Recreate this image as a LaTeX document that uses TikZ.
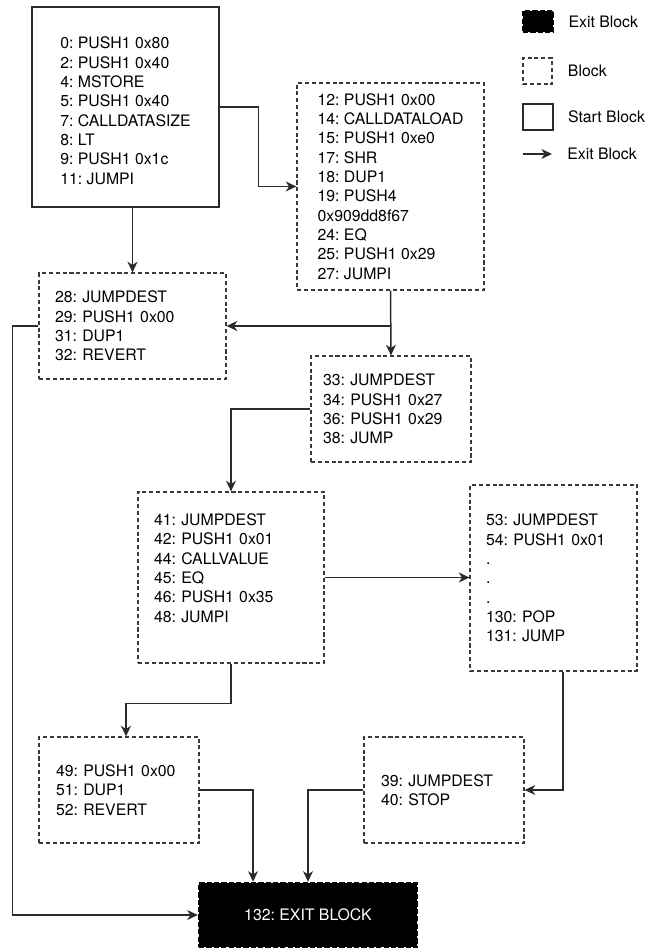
\documentclass[tikz,border=0pt]{standalone}
\usepackage{fontspec}
\setmainfont{TeX Gyre Heros}
\usetikzlibrary{positioning, arrows.meta, calc}
\definecolor{cfgline}{HTML}{2A2A2A}
\definecolor{cfgedge}{HTML}{3A3A3A}
\frenchspacing
\tikzset{
  blockbox/.style={draw=cfgedge, line width=0.7pt, dash pattern=on 2.3pt off 1.6pt,
                   inner sep=0pt, align=left, font=\fontsize{9}{11}\selectfont},
  startbox/.style={draw=cfgline, line width=0.8pt, inner sep=0pt, align=left,
                   font=\fontsize{9}{11}\selectfont},
  exitbox/.style={fill=black, draw=black, line width=1.4pt, dash pattern=on 3pt off 1.2pt,
                  text=white, inner sep=0pt, font=\fontsize{9}{11}\selectfont},
  flow/.style={draw=cfgline, line width=0.85pt, -{Stealth[length=6pt, width=5.6pt, inset=1.8pt]}},
  legtext/.style={inner sep=0pt, font=\fontsize{9}{11}\selectfont}
}
\begin{document}
\begin{tikzpicture}[x=0.02cm, y=-0.02cm]
\useasboundingbox (0,0) rectangle (645,949);
% basic blocks
\node[startbox, minimum width=3.74cm, minimum height=4cm] (b0) at (125.5,107)
  {\mbox{}\\0: PUSH1 0x80\\2: PUSH1 0x40\\4: MSTORE\\5: PUSH1 0x40\\7: CALLDATASIZE\\8: LT\\9: PUSH1 0x1c\\11: JUMPI};
\node[blockbox, minimum width=3.74cm, minimum height=4.14cm] (b12) at (390.5,186.5)
  {12: PUSH1 0x00\\14: CALLDATALOAD\\15: PUSH1 0xe0\\17: SHR\\18: DUP1\\19: PUSH4\\0x909dd8f67\\24: EQ\\25: PUSH1 0x29\\27: JUMPI};
\node[blockbox, minimum width=3.74cm, minimum height=2.12cm, text width=3.1cm] (b28) at (132.5,326)
  {28: JUMPDEST\\29: PUSH1 0x00\\31: DUP1\\32: REVERT};
\node[blockbox, minimum width=3.2cm, minimum height=2.12cm, text width=2.72cm] (b33) at (391,409)
  {33: JUMPDEST\\34: PUSH1 0x27\\36: PUSH1 0x29\\38: JUMP};
\node[blockbox, minimum width=3.72cm, minimum height=3.42cm, text width=3.08cm] (b41) at (231,577.5)
  {41: JUMPDEST\\42: PUSH1 0x01\\44: CALLVALUE\\45: EQ\\46: PUSH1 0x35\\48: JUMPI\\\mbox{}};
\node[blockbox, minimum width=3.34cm, minimum height=3.72cm, text width=2.7cm] (b53) at (553.5,578)
  {53: JUMPDEST\\54: PUSH1 0x01\\.\\.\\.\\130: POP\\131: JUMP};
\node[blockbox, minimum width=3.2cm, minimum height=2.12cm, text width=2.52cm] (b49) at (119,790)
  {49: PUSH1 0x00\\51: DUP1\\52: REVERT};
\node[blockbox, minimum width=3.2cm, minimum height=2.12cm, text width=2.52cm] (b39) at (444,790)
  {39: JUMPDEST\\40: STOP};
\node[exitbox, minimum width=4.36cm, minimum height=1.28cm] (exit) at (308,915) {132: EXIT BLOCK};

% legend
\node[exitbox, minimum width=0.6cm, minimum height=0.42cm] (lexit) at (538,21.5) {};
\node[legtext, right=0.28cm of lexit] (texit) {Exit Block};
\node[blockbox, minimum width=0.58cm, minimum height=0.52cm] (lblock) at (537.5,71) {};
\node[legtext, right=0.3cm of lblock] (tblock) {Block};
\node[startbox, minimum width=0.6cm, minimum height=0.52cm] (lstart) at (538,117) {};
\node[legtext, right=0.28cm of lstart] (tstart) {Start Block};
\coordinate (la1) at (523,154);
\coordinate (la2) at (552,154);
\draw[flow] (la1) -- (la2);
\node[legtext, right=0.3cm of la2] (tarrow) {Exit Block};

% edges
\draw[flow] (b0.east) -- ++(39,0) |- (b12.west);
\draw[flow] (b0.south -| b28.north) -- (b28.north);
\draw[flow] (b12.south) -- (b33.north);
\draw[flow] (b12.south |- b28.east) -- (b28.east);
\draw[flow] (b33.west) -| (b41.north);
\draw[flow] (b41.east) -- (b41.east -| b53.west);
\draw[flow] (b41.south) -- ++(0,40) -| ($(b49.north)+(7,0)$);
\draw[flow] (b28.west) -- ++(-26,0) |- (exit.west);
\draw[flow] (b49.east) -| ($(exit.north)+(-55,0)$);
\draw[flow] (b39.west) -| (exit.north);
\draw[flow] ($(b53.south)+(9.5,0)$) |- (b39.east);
\end{tikzpicture}
\end{document}
